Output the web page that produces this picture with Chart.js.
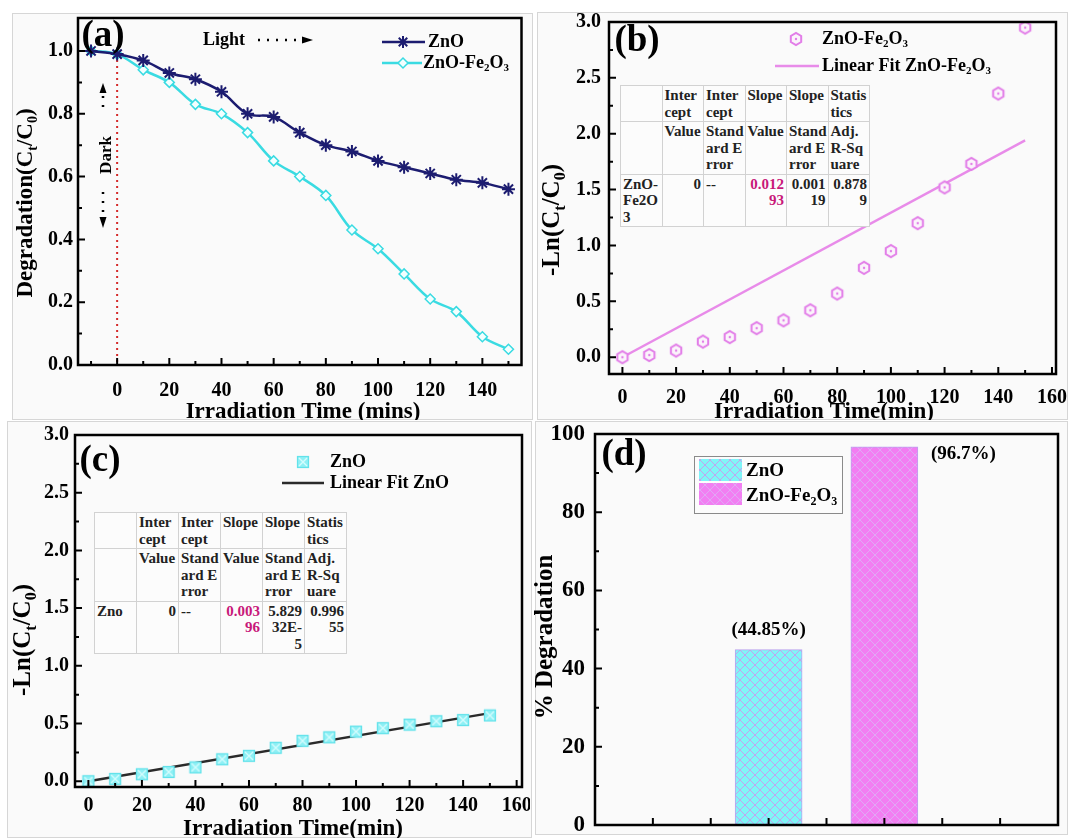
<!DOCTYPE html>
<html lang="en">
<head>
<meta charset="UTF-8">
<title>ZnO / ZnO-Fe2O3 degradation</title>
<script src="https://cdn.jsdelivr.net/npm/chart.js@4.4.0/dist/chart.umd.min.js"></script>
<style>
  body { margin: 0; background: #fff; }
  #fig { position: relative; width: 1069px; height: 838px; overflow: hidden; }
  .panel { position: absolute; background: #fafafa; border: 1px solid #d6d6d6; box-sizing: border-box; }
  canvas { position: absolute; }
  table.fit { position: absolute; border-collapse: collapse; table-layout: fixed;
    font: bold 15px/16.5px "Liberation Serif", "Times New Roman", serif; color: #222; background: #fcfcfc; }
  table.fit td { border: 1px solid #d2d2d2; vertical-align: top; padding: 1px 2px; white-space: nowrap; overflow: hidden; }
  .r { text-align: right; }
  .pk { color: #c8187a; }
</style>
</head>
<body>
<div id="fig">
  <div class="panel" style="left:12px;top:13px;width:521px;height:407px"></div>
  <div class="panel" style="left:537px;top:12px;width:531px;height:408px"></div>
  <div class="panel" style="left:7px;top:421px;width:525px;height:417px"></div>
  <div class="panel" style="left:535px;top:421px;width:533px;height:414px"></div>

  <canvas id="chartA" width="530" height="420" style="left:0;top:0"></canvas>
  <canvas id="chartB" width="539" height="420" style="left:530px;top:0"></canvas>
  <canvas id="chartC" width="530" height="418" style="left:0;top:420px"></canvas>
  <canvas id="chartD" width="539" height="418" style="left:530px;top:420px"></canvas>

  <table class="fit" style="left:620px;top:85px;width:249px">
    <colgroup><col style="width:41.5px"><col style="width:41.5px"><col style="width:41.5px"><col style="width:41.5px"><col style="width:41.5px"><col style="width:41.5px"></colgroup>
    <tr style="height:34px"><td></td><td>Inter<br>cept</td><td>Inter<br>cept</td><td>Slope</td><td>Slope</td><td>Statis<br>tics</td></tr>
    <tr style="height:49px"><td></td><td>Value</td><td>Stand<br>ard E<br>rror</td><td>Value</td><td>Stand<br>ard E<br>rror</td><td>Adj.<br>R-Sq<br>uare</td></tr>
    <tr style="height:50px"><td>ZnO-<br>Fe2O<br>3</td><td class="r">0</td><td>--</td><td class="r pk">0.012<br>93</td><td class="r">0.001<br>19</td><td class="r">0.878<br>9</td></tr>
  </table>

  <table class="fit" style="left:94px;top:512px;width:252px">
    <colgroup><col style="width:42px"><col style="width:42px"><col style="width:42px"><col style="width:42px"><col style="width:42px"><col style="width:42px"></colgroup>
    <tr style="height:33px"><td></td><td>Inter<br>cept</td><td>Inter<br>cept</td><td>Slope</td><td>Slope</td><td>Statis<br>tics</td></tr>
    <tr style="height:49px"><td></td><td>Value</td><td>Stand<br>ard E<br>rror</td><td>Value</td><td>Stand<br>ard E<br>rror</td><td>Adj.<br>R-Sq<br>uare</td></tr>
    <tr style="height:49px"><td>Zno</td><td class="r">0</td><td>--</td><td class="r pk">0.003<br>96</td><td class="r">5.829<br>32E-<br>5</td><td class="r">0.996<br>55</td></tr>
  </table>
</div>

<script>
// ---- data ----
// (a) C/C0 vs time
const timeA = [-10, 0, 10, 20, 30, 40, 50, 60, 70, 80, 90, 100, 110, 120, 130, 140, 150];
const znoA = [1.0, 0.99, 0.97, 0.93, 0.91, 0.87, 0.80, 0.79, 0.74, 0.70, 0.68, 0.65, 0.63, 0.61, 0.59, 0.58, 0.56];
const fe2o3A = [1.0, 0.99, 0.94, 0.90, 0.83, 0.80, 0.74, 0.65, 0.60, 0.54, 0.43, 0.37, 0.29, 0.21, 0.17, 0.09, 0.05];
const xTicksA = [0, 20, 40, 60, 80, 100, 120, 140];
const yTicksA = [0, 0.2, 0.4, 0.6, 0.8, 1.0];

// (b) -ln(C/C0) ZnO-Fe2O3 with linear fit
const timeB = [0, 10, 20, 30, 40, 50, 60, 70, 80, 90, 100, 110, 120, 130, 140, 150];
const lnFe2o3B = [0, 0.02, 0.06, 0.14, 0.18, 0.26, 0.33, 0.42, 0.57, 0.80, 0.95, 1.20, 1.52, 1.73, 2.36, 2.95];
const fitTimeB = [0, 150];
const fitB = [0, 1.94];

// (c) -ln(C/C0) ZnO with linear fit
const timeC = [0, 10, 20, 30, 40, 50, 60, 70, 80, 90, 100, 110, 120, 130, 140, 150];
const lnZnoC = [0, 0.02, 0.06, 0.08, 0.12, 0.19, 0.22, 0.29, 0.35, 0.38, 0.43, 0.46, 0.49, 0.52, 0.53, 0.57];
const fitTimeC = [0, 150];
const fitC = [0, 0.59];

const xTicksBC = [0, 20, 40, 60, 80, 100, 120, 140, 160];
const yTicksBC = [0, 0.5, 1.0, 1.5, 2.0, 2.5, 3.0];

// (d) % degradation
const catsD = ['ZnO', 'ZnO-Fe_2O_3'];
const slotD = [3, 5];
const pctD = [44.85, 96.7];
const pctLabelsD = ['(44.85%)', '(96.7%)'];
const xTicksD = [1, 2, 3, 4, 5, 6, 7];
const yTicksD = [0, 20, 40, 60, 80, 100];

// ---- helpers ----
const SERIF = '"Liberation Serif", "Times New Roman", serif';
const f = s => `bold ${s}px ${SERIF}`;
const NAVY = '#1c1c70', CYAN = '#3adbe2', PINK = '#e27de8';
const pts = (xs, ys) => xs.map((x, i) => ({ x, y: ys[i] }));
const mids = t => t.slice(0, -1).map((v, i) => (v + t[i + 1]) / 2);

function drawRich(ctx, str, x, y, size, align, color) {
  const parts = [];
  for (let i = 0; i < str.length; i++) {
    if (str[i] === '_') { parts.push({ t: str[++i], sub: true }); continue; }
    const last = parts[parts.length - 1];
    if (last && !last.sub) last.t += str[i]; else parts.push({ t: str[i], sub: false });
  }
  const sub = Math.round(size * 0.62);
  let w = 0;
  parts.forEach(p => { ctx.font = f(p.sub ? sub : size); p.w = ctx.measureText(p.t).width; w += p.w; });
  let cx = align === 'center' ? x - w / 2 : align === 'right' ? x - w : x;
  ctx.textAlign = 'left'; ctx.textBaseline = 'middle'; ctx.fillStyle = color || '#000';
  parts.forEach(p => { ctx.font = f(p.sub ? sub : size); ctx.fillText(p.t, cx, y + (p.sub ? size * 0.3 : 0)); cx += p.w; });
}
function drawVert(ctx, str, x, y, size) {
  ctx.save(); ctx.translate(x, y); ctx.rotate(-Math.PI / 2);
  drawRich(ctx, str, 0, 0, size, 'center'); ctx.restore();
}

function axis(min, max, ticks, o) {
  return {
    type: 'linear', min, max, offset: false,
    grid: { display: false, drawTicks: false, tickLength: 0 }, border: { display: false },
    afterBuildTicks: s => { s.ticks = ticks.map(v => ({ value: v })); },
    afterFit: s => {
      if (s.isHorizontal()) s.height = o.size; else s.width = o.size;
      s.paddingLeft = s.paddingRight = s.paddingTop = s.paddingBottom = 0;
    },
    ticks: { display: o.labels !== false, font: { family: SERIF, size: o.font || 20, weight: 'bold' }, color: '#000',
      padding: o.pad || 0, maxRotation: 0, autoSkip: false, callback: o.fmt || (v => String(v)) }
  };
}

// frame, inward ticks, titles and panel letter
function panelPlugin(o) {
  return {
    id: 'panel',
    beforeDatasetsDraw(chart) { if (o.under) o.under(chart, chart.ctx); },
    afterDraw(chart) {
      const { ctx, chartArea: a, scales: { x, y } } = chart;
      ctx.save();
      ctx.strokeStyle = '#000'; ctx.lineWidth = 2;
      ctx.beginPath();
      o.xMajor.forEach(v => { const p = x.getPixelForValue(v); ctx.moveTo(p, a.bottom); ctx.lineTo(p, a.bottom - 7); });
      o.xMinor.forEach(v => { const p = x.getPixelForValue(v); ctx.moveTo(p, a.bottom); ctx.lineTo(p, a.bottom - 4); });
      o.yMajor.forEach(v => { const p = y.getPixelForValue(v); ctx.moveTo(a.left, p); ctx.lineTo(a.left + 7, p); });
      o.yMinor.forEach(v => { const p = y.getPixelForValue(v); ctx.moveTo(a.left, p); ctx.lineTo(a.left + 4, p); });
      ctx.stroke();
      ctx.lineWidth = 2.5;
      ctx.strokeRect(a.left, a.top, a.right - a.left, a.bottom - a.top);
      if (o.xTitle) drawRich(ctx, o.xTitle, o.xTitlePos[0], o.xTitlePos[1], 23, 'center');
      drawVert(ctx, o.yTitle, o.yTitlePos[0], o.yTitlePos[1], o.yTitleSize);
      drawRich(ctx, o.tag, o.tagPos[0], o.tagPos[1], 37, 'center');
      if (o.extra) o.extra(chart, ctx);
      ctx.restore();
    }
  };
}

function starMark(ctx, x, y, r) {
  ctx.beginPath();
  for (let k = 0; k < 4; k++) {
    const t = k * Math.PI / 4;
    ctx.moveTo(x - r * Math.cos(t), y - r * Math.sin(t));
    ctx.lineTo(x + r * Math.cos(t), y + r * Math.sin(t));
  }
  ctx.stroke();
}
function diamondMark(ctx, x, y, r) {
  ctx.beginPath(); ctx.moveTo(x, y - r); ctx.lineTo(x + r, y); ctx.lineTo(x, y + r); ctx.lineTo(x - r, y); ctx.closePath();
  ctx.fill(); ctx.stroke();
}
function hexMarker(color) {
  const c = document.createElement('canvas'); c.width = c.height = 16;
  const g = c.getContext('2d');
  g.strokeStyle = color; g.lineWidth = 2; g.fillStyle = '#fbf4fb';
  g.beginPath();
  for (let k = 0; k < 6; k++) {
    const t = Math.PI / 6 + k * Math.PI / 3;
    const px = 8 + 6 * Math.cos(t), py = 8 + 6 * Math.sin(t);
    if (k) g.lineTo(px, py); else g.moveTo(px, py);
  }
  g.closePath(); g.fill(); g.stroke();
  g.fillStyle = color; g.beginPath(); g.arc(8, 8, 1.2, 0, 7); g.fill();
  return c;
}
function boxMarker() {
  const c = document.createElement('canvas'); c.width = c.height = 14;
  const g = c.getContext('2d');
  g.fillStyle = '#8ff0f5'; g.fillRect(1.5, 1.5, 11, 11);
  g.strokeStyle = '#62e2ea'; g.lineWidth = 1.2; g.strokeRect(1.5, 1.5, 11, 11);
  g.strokeStyle = '#d4fcfd'; g.lineWidth = 1.4;
  g.beginPath(); g.moveTo(3, 3); g.lineTo(11, 11); g.moveTo(11, 3); g.lineTo(3, 11); g.stroke();
  return c;
}
function hatch(bg, line) {
  const c = document.createElement('canvas'); c.width = c.height = 10;
  const g = c.getContext('2d');
  g.fillStyle = bg; g.fillRect(0, 0, 10, 10);
  g.strokeStyle = line; g.lineWidth = 1;
  g.beginPath();
  g.moveTo(-1, -1); g.lineTo(11, 11); g.moveTo(11, -1); g.lineTo(-1, 11);
  g.stroke();
  return g.createPattern(c, 'repeat');
}

const base = (padTop, padRight) => ({
  responsive: false, animation: false, devicePixelRatio: 1,
  layout: { padding: { top: padTop, right: padRight, left: 0, bottom: 0 } },
  plugins: { legend: { display: false }, tooltip: { enabled: false } }
});

// ---- (a) ----
new Chart(document.getElementById('chartA'), {
  type: 'scatter',
  data: {
    datasets: [
      { label: 'ZnO', data: pts(timeA, znoA), showLine: true, borderColor: NAVY, backgroundColor: NAVY,
        borderWidth: 2.5, pointStyle: 'star', pointRadius: 6.5, pointBorderWidth: 2, tension: 0.35 },
      { label: 'ZnO-Fe2O3', data: pts(timeA, fe2o3A), showLine: true, borderColor: CYAN, backgroundColor: '#f2ffff',
        borderWidth: 2.5, pointStyle: 'rectRot', pointRadius: 5, pointBorderWidth: 1.5, tension: 0.35 }
    ]
  },
  options: Object.assign(base(18, 2), {
    scales: {
      x: axis(-15, 155, xTicksA, { size: 55, pad: 14 }),
      y: axis(0, 1.105, yTicksA, { size: 78, pad: 5, fmt: v => v.toFixed(1) })
    }
  }),
  plugins: [panelPlugin({
    xMajor: xTicksA, xMinor: [-10, ...mids(xTicksA), 150],
    yMajor: yTicksA, yMinor: mids(yTicksA),
    xTitle: 'Irradiation Time (mins)', xTitlePos: [303, 412],
    yTitle: 'Degradation(C_t/C_0)', yTitlePos: [26, 203], yTitleSize: 23,
    tag: '(a)', tagPos: [103, 36],
    under(chart, ctx) {
      const { x, y } = chart.scales, a = chart.chartArea, px = x.getPixelForValue(0);
      ctx.save(); ctx.strokeStyle = '#d42a2a'; ctx.lineWidth = 2; ctx.setLineDash([2, 4]);
      ctx.beginPath(); ctx.moveTo(px, y.getPixelForValue(0.99)); ctx.lineTo(px, a.bottom); ctx.stroke(); ctx.restore();
    },
    extra(chart, ctx) {
      // legend
      ctx.lineWidth = 2.5; ctx.strokeStyle = NAVY;
      ctx.beginPath(); ctx.moveTo(382, 42); ctx.lineTo(425, 42); ctx.stroke();
      ctx.lineWidth = 2; starMark(ctx, 403, 42, 6);
      drawRich(ctx, 'ZnO', 428, 42, 18, 'left');
      ctx.lineWidth = 2.5; ctx.strokeStyle = CYAN;
      ctx.beginPath(); ctx.moveTo(382, 63); ctx.lineTo(422, 63); ctx.stroke();
      ctx.lineWidth = 1.5; ctx.fillStyle = '#f2ffff'; diamondMark(ctx, 403, 63, 5);
      drawRich(ctx, 'ZnO-Fe_2O_3', 423, 63, 18, 'left');
      // Light arrow
      drawRich(ctx, 'Light', 203, 40, 18, 'left');
      ctx.strokeStyle = '#000'; ctx.fillStyle = '#000'; ctx.lineWidth = 2.5; ctx.setLineDash([2, 7]);
      ctx.beginPath(); ctx.moveTo(258, 40); ctx.lineTo(302, 40); ctx.stroke(); ctx.setLineDash([]);
      ctx.beginPath(); ctx.moveTo(302, 36.5); ctx.lineTo(313, 40); ctx.lineTo(302, 43.5); ctx.closePath(); ctx.fill();
      // Dark arrows
      drawVert(ctx, 'Dark', 107, 155, 17);
      ctx.setLineDash([2, 7]);
      ctx.beginPath(); ctx.moveTo(103, 96); ctx.lineTo(103, 114); ctx.moveTo(103, 192); ctx.lineTo(103, 212); ctx.stroke();
      ctx.setLineDash([]);
      ctx.beginPath(); ctx.moveTo(103, 83); ctx.lineTo(106.5, 93); ctx.lineTo(99.5, 93); ctx.closePath(); ctx.fill();
      ctx.beginPath(); ctx.moveTo(103, 228); ctx.lineTo(106.5, 217); ctx.lineTo(99.5, 217); ctx.closePath(); ctx.fill();
    }
  })]
});

// ---- (b) ----
const hexImg = hexMarker(PINK);
new Chart(document.getElementById('chartB'), {
  type: 'scatter',
  data: {
    datasets: [
      { label: 'ZnO-Fe2O3', data: pts(timeB, lnFe2o3B), pointStyle: hexImg, pointRadius: 7 },
      { label: 'Linear Fit ZnO-Fe2O3', data: pts(fitTimeB, fitB), showLine: true, borderColor: '#e88be9',
        borderWidth: 2.5, pointRadius: 0 }
    ]
  },
  options: Object.assign(base(22, 13), {
    scales: {
      x: axis(-5, 161.5, xTicksBC, { size: 46, pad: 12 }),
      y: axis(-0.15, 3.0, yTicksBC, { size: 79, pad: 8, fmt: v => v.toFixed(1) })
    }
  }),
  plugins: [panelPlugin({
    xMajor: xTicksBC, xMinor: mids(xTicksBC),
    yMajor: yTicksBC, yMinor: mids(yTicksBC),
    xTitle: 'Irradiation Time(min)', xTitlePos: [294, 412],
    yTitle: '-Ln(C_t/C_0)', yTitlePos: [23, 220], yTitleSize: 25,
    tag: '(b)', tagPos: [107, 41],
    extra(chart, ctx) {
      ctx.drawImage(hexImg, 266 - 8, 39 - 8);
      drawRich(ctx, 'ZnO-Fe_2O_3', 292, 39, 18, 'left');
      ctx.strokeStyle = '#e88be9'; ctx.lineWidth = 2.5;
      ctx.beginPath(); ctx.moveTo(245, 66); ctx.lineTo(289, 66); ctx.stroke();
      drawRich(ctx, 'Linear Fit ZnO-Fe_2O_3', 292, 66, 18, 'left');
    }
  })]
});

// ---- (c) ----
const boxImg = boxMarker();
new Chart(document.getElementById('chartC'), {
  type: 'scatter',
  data: {
    datasets: [
      { label: 'ZnO', data: pts(timeC, lnZnoC), pointStyle: boxImg, pointRadius: 7 },
      { label: 'Linear Fit ZnO', data: pts(fitTimeC, fitC), showLine: true, borderColor: '#2a2a2a',
        borderWidth: 2.5, pointRadius: 0 }
    ]
  },
  options: Object.assign(base(15, 2), {
    scales: {
      x: axis(-5, 162, xTicksBC, { size: 51, pad: 7 }),
      y: axis(-0.05, 3.0, yTicksBC, { size: 75, pad: 6, fmt: v => v.toFixed(1) })
    }
  }),
  plugins: [panelPlugin({
    xMajor: xTicksBC, xMinor: mids(xTicksBC),
    yMajor: yTicksBC, yMinor: mids(yTicksBC),
    xTitle: 'Irradiation Time(min)', xTitlePos: [293, 409],
    yTitle: '-Ln(C_t/C_0)', yTitlePos: [24, 220], yTitleSize: 25,
    tag: '(c)', tagPos: [100, 41],
    extra(chart, ctx) {
      ctx.drawImage(boxImg, 303 - 7, 42 - 7);
      drawRich(ctx, 'ZnO', 330, 42, 18, 'left');
      ctx.strokeStyle = '#2a2a2a'; ctx.lineWidth = 2.5;
      ctx.beginPath(); ctx.moveTo(282, 63); ctx.lineTo(324, 63); ctx.stroke();
      drawRich(ctx, 'Linear Fit ZnO', 330, 63, 18, 'left');
    }
  })]
});

// ---- (d) ----
const fillsD = [hatch('#80f4f7', '#c2a3ee'), hatch('#f27ef2', '#e0a8f4')];
new Chart(document.getElementById('chartD'), {
  type: 'bar',
  data: {
    datasets: catsD.map((c, i) => ({
      label: c.replace(/_/g, ''), data: [{ x: slotD[i], y: pctD[i] }],
      backgroundColor: fillsD[i], borderColor: '#bba2ee', borderWidth: 1, barThickness: 67, grouped: false
    }))
  },
  options: Object.assign(base(14, 11), {
    scales: {
      x: axis(0, 8, xTicksD, { size: 13, labels: false }),
      y: axis(0, 100, yTicksD, { size: 65, pad: 10, font: 23 })
    }
  }),
  plugins: [panelPlugin({
    xMajor: xTicksD, xMinor: [],
    yMajor: yTicksD, yMinor: mids(yTicksD),
    yTitle: '% Degradation', yTitlePos: [16, 217], yTitleSize: 25,
    tag: '(d)', tagPos: [94, 35],
    extra(chart, ctx) {
      const { x, y } = chart.scales;
      // legend box
      ctx.fillStyle = '#fcfcfc'; ctx.fillRect(165, 36, 148, 57);
      ctx.strokeStyle = '#8a8a8a'; ctx.lineWidth = 1; ctx.strokeRect(164.5, 36.5, 148, 57);
      catsD.forEach((c, i) => {
        ctx.fillStyle = fillsD[i]; ctx.fillRect(169, 39 + i * 24, 43, 22);
        drawRich(ctx, c, 216, 51 + i * 25, 19, 'left');
      });
      // value labels
      drawRich(ctx, pctLabelsD[0], x.getPixelForValue(slotD[0]), y.getPixelForValue(pctD[0]) - 20, 19, 'center');
      drawRich(ctx, pctLabelsD[1], x.getPixelForValue(slotD[1]) + 79, y.getPixelForValue(pctD[1]) + 7, 19, 'center');
    }
  })]
});
</script>
</body>
</html>
